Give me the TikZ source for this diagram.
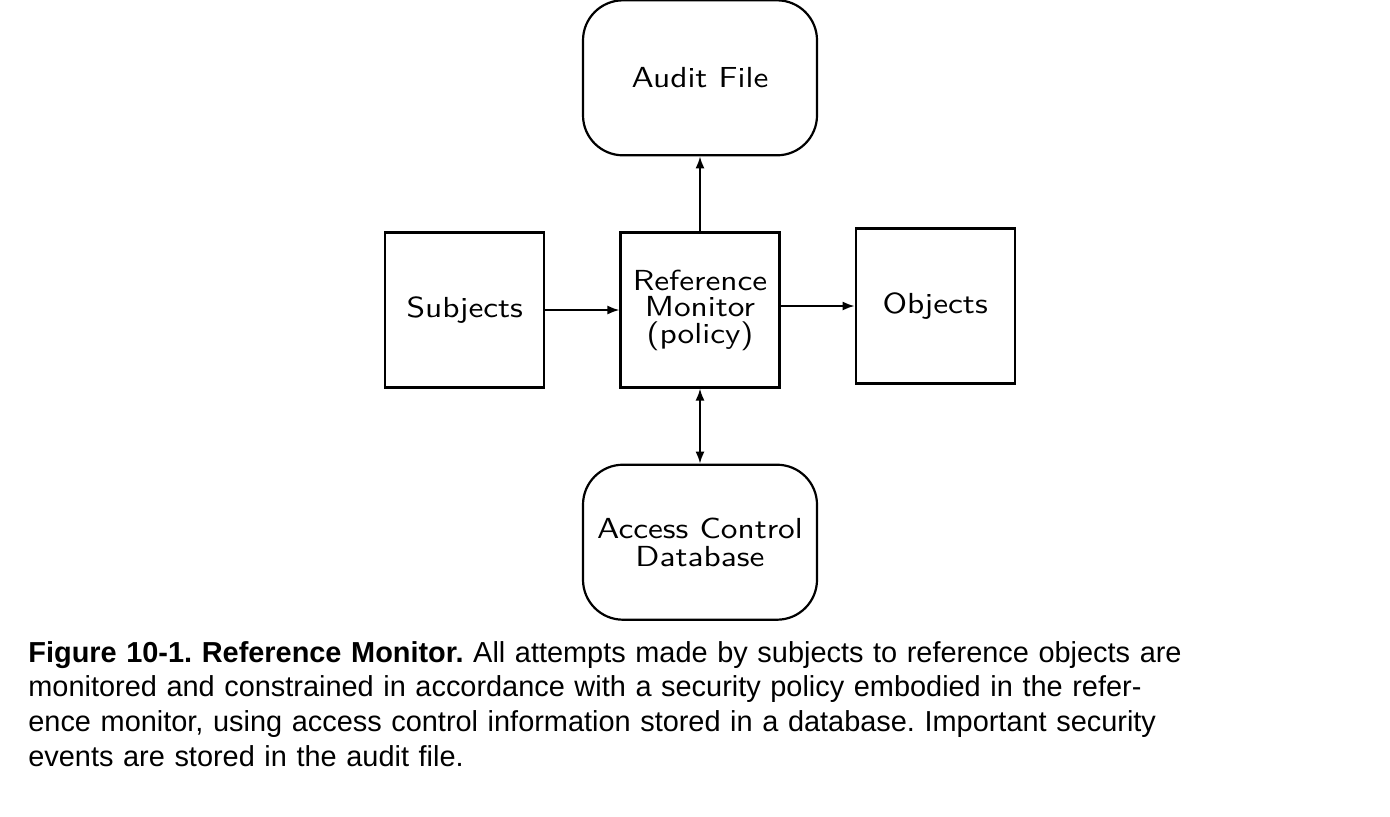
\documentclass[tikz,border=0pt]{standalone}
\usepackage{fontspec}
\newfontfamily\capfont{Liberation Sans}
\newfontfamily\boxfont{lmsans10-regular.otf}[FakeStretch=1.15]
\usetikzlibrary{arrows.meta,positioning}
\tikzset{
  box/.style={draw,line width=1.1pt,minimum width=79.5pt,minimum height=77.5pt,
              inner sep=2pt,align=center,font=\boxfont\fontsize{14.5}{14}\selectfont},
  storebox/.style={box,rounded corners=20pt,minimum width=117pt},
  flow/.style={-{Latex[length=6pt,width=4.5pt]},line width=0.9pt},
  bothflow/.style={{Latex[length=6pt,width=4.5pt]}-{Latex[length=6pt,width=4.5pt]},line width=0.9pt},
  caption/.style={inner sep=0pt,text width=640pt,align=left,
              font=\capfont\fontsize{14.45}{17.3}\selectfont}
}
\begin{document}
\begin{tikzpicture}[x=0.5pt,y=-0.5pt,node distance=37.5pt and 37pt]
  \useasboundingbox (0,0) rectangle (1390,816);
  \node[box,font=\boxfont\fontsize{14.5}{13.3}\selectfont] (monitor) at (700,310) {Reference\\Monitor\\(policy)};
  \node[box,left=of monitor] (subjects) {Subjects};
  \node[box,right=of monitor,yshift=2pt] (objects) {Objects};
  \node[storebox,above=of monitor] (audit) {Audit File};
  \node[storebox,below=of monitor] (acdb) {Access Control\\Database};
  \node[caption,anchor=north west] (cap) at (28,641)
    {\frenchspacing\textbf{Figure 10-1. Reference Monitor.} All attempts made by subjects to reference objects are\\
     monitored and constrained in accordance with a security policy embodied in the refer-\\
     ence monitor, using access control information stored in a database. Important security\\
     events are stored in the audit file.};

  \draw[flow] (subjects) -- (monitor);
  \draw[flow] (monitor.east |- objects) -- (objects);
  \draw[flow] (monitor) -- (audit);
  \draw[bothflow] (monitor) -- (acdb);
\end{tikzpicture}
\end{document}
